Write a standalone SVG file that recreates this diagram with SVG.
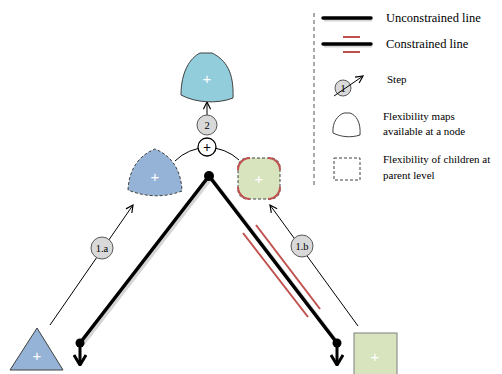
<svg xmlns="http://www.w3.org/2000/svg" width="502" height="374" viewBox="0 0 502 374">
<style>
text{font-family:"Liberation Serif","Times New Roman",serif}
.lbl{font-size:11px;fill:#000}
.leg{font-size:12.5px;fill:#000}
.num{font-size:10.5px;text-anchor:middle;fill:#000}
.plus{font-family:"Liberation Sans",Arial,sans-serif;font-size:15px;fill:#fff;text-anchor:middle}
.thick{stroke:#000;stroke-width:3.5;fill:none;stroke-linecap:round}
.shadow{stroke:#888;stroke-width:4;fill:none;opacity:0.35}
.thin{stroke:#000;stroke-width:1;fill:none}
.red{stroke:#C0504D;stroke-width:2;fill:none}
.step{fill:#D9D9D9;stroke:#595959;stroke-width:1}
.dash{stroke:#404040;stroke-width:1;stroke-dasharray:3,2}
</style>
<defs>
<marker id="open" viewBox="0 0 10 10" refX="9" refY="5" markerWidth="9" markerHeight="9" markerUnits="userSpaceOnUse" orient="auto">
<path d="M1,1 L9,5 L1,9" fill="none" stroke="#000" stroke-width="1.3"/>
</marker>
<marker id="down" viewBox="0 0 12 14" refX="11" refY="7" markerWidth="12" markerHeight="14" markerUnits="userSpaceOnUse" orient="auto">
<path d="M1,1 L11,7 L1,13" fill="none" stroke="#000" stroke-width="3"/>
</marker>
</defs>

<g id="legend">
<line x1="314" y1="13" x2="314" y2="186" stroke="#555" stroke-width="1" stroke-dasharray="4,3"/>
<line x1="324" y1="19.5" x2="372" y2="19.5" class="shadow"/>
<line x1="323" y1="18" x2="371" y2="18" class="thick" stroke-linecap="butt"/>
<text x="386" y="22" class="leg">Unconstrained line</text>
<line x1="343" y1="37" x2="360" y2="37" class="red"/>
<line x1="324" y1="45.5" x2="372" y2="45.5" class="shadow"/>
<line x1="323" y1="44" x2="371" y2="44" class="thick" stroke-linecap="butt"/>
<line x1="343" y1="52" x2="360" y2="52" class="red"/>
<text x="386" y="48" class="leg">Constrained line</text>
<circle cx="343" cy="88" r="8" class="step"/>
<text x="343" y="92" class="num">1</text>
<line x1="334" y1="96" x2="363" y2="76" class="thin" marker-end="url(#open)"/>
<text x="387" y="83" class="lbl">Step</text>
<path d="M333,133 C332,122 338,115 344,113 L350,113 C356,115 361,122 360,135 C351,138 341,137 333,133 Z" fill="#fff" stroke="#404040" stroke-width="1"/>
<text x="383" y="120" class="lbl">Flexibility maps</text>
<text x="383" y="135" class="lbl">available at a node</text>
<rect x="334" y="158" width="26" height="22" fill="none" class="dash"/>
<text x="383" y="163" class="lbl">Flexibility of children at</text>
<text x="383" y="179" class="lbl">parent level</text>
</g>

<g id="connectors">
<line x1="211" y1="178" x2="339" y2="345" class="shadow"/>
<line x1="211" y1="178" x2="82" y2="345" class="shadow"/>
<line x1="209" y1="176" x2="80" y2="343" class="thick"/>
<line x1="209" y1="176" x2="337" y2="343" class="thick"/>
<line x1="256" y1="225" x2="320" y2="309" class="red"/>
<line x1="243" y1="233" x2="308" y2="317" class="red"/>
<line x1="80" y1="343" x2="80" y2="365" stroke="#000" stroke-width="3" marker-end="url(#down)"/>
<line x1="337" y1="343" x2="337" y2="365" stroke="#000" stroke-width="3" marker-end="url(#down)"/>
<line x1="50" y1="325" x2="133" y2="205" class="thin" marker-end="url(#open)"/>
<line x1="358" y1="326" x2="270" y2="205" class="thin" marker-end="url(#open)"/>
<line x1="207" y1="115" x2="207" y2="102" class="thin" marker-end="url(#open)"/>
<path d="M175,161 A46,46 0 0 1 239,160" class="thin"/>
</g>

<g id="apex">
<circle cx="209" cy="176" r="5" fill="#000"/>
<circle cx="80" cy="343" r="4.5" fill="#000"/>
<circle cx="337" cy="343" r="4.5" fill="#000"/>
</g>

<g id="top-node">
<path d="M181,95 C181,72 190,58 200,53 L212,53 C226,60 234,72 233,98 C218,104 196,103 181,95 Z" fill="#92CDDC" stroke="#404040" stroke-width="1"/>
<text x="207" y="84" class="plus">+</text>
</g>

<g id="step-2">
<circle cx="207" cy="125" r="10" class="step"/>
<text x="207" y="129" class="num">2</text>
</g>

<g id="plus-op">
<circle cx="207" cy="147" r="9" fill="#fff" stroke="#000" stroke-width="1.3"/>
<text x="207" y="152" font-family="Liberation Sans,Arial,sans-serif" font-size="14" font-weight="bold" text-anchor="middle" fill="#000">+</text>
</g>

<g id="left-parent">
<path d="M128,190 C129,168 140,155 155,149 C170,155 181,168 182,191 C164,198 145,197 128,190 Z" fill="#95B3D7" class="dash"/>
<text x="155" y="182" class="plus">+</text>
</g>

<g id="right-parent">
<rect x="238" y="158" width="42" height="41" rx="9" fill="#D7E4BD" class="dash"/>
<path d="M238,170 A12,12 0 0 1 250,158" class="red" stroke-width="2.5"/>
<path d="M268,158 A12,12 0 0 1 280,170" class="red" stroke-width="2.5"/>
<path d="M280,187 A12,12 0 0 1 268,199" class="red" stroke-width="2.5"/>
<path d="M250,199 A12,12 0 0 1 238,187" class="red" stroke-width="2.5"/>
<text x="259" y="184" class="plus">+</text>
</g>

<g id="step-1a">
<circle cx="102" cy="248" r="11" class="step"/>
<text x="102" y="252" class="num">1.a</text>
</g>

<g id="step-1b">
<circle cx="302" cy="246" r="11" class="step"/>
<text x="302" y="250" class="num">1.b</text>
</g>

<g id="left-child">
<path d="M37,328 L63,370 L10,370 Z" fill="#95B3D7" stroke="#404040" stroke-width="1"/>
<text x="37" y="361" class="plus">+</text>
</g>

<g id="right-child">
<rect x="354" y="333" width="43" height="45" fill="#D7E4BD" stroke="#7F7F7F" stroke-width="1"/>
<text x="375" y="362" class="plus">+</text>
</g>
</svg>
